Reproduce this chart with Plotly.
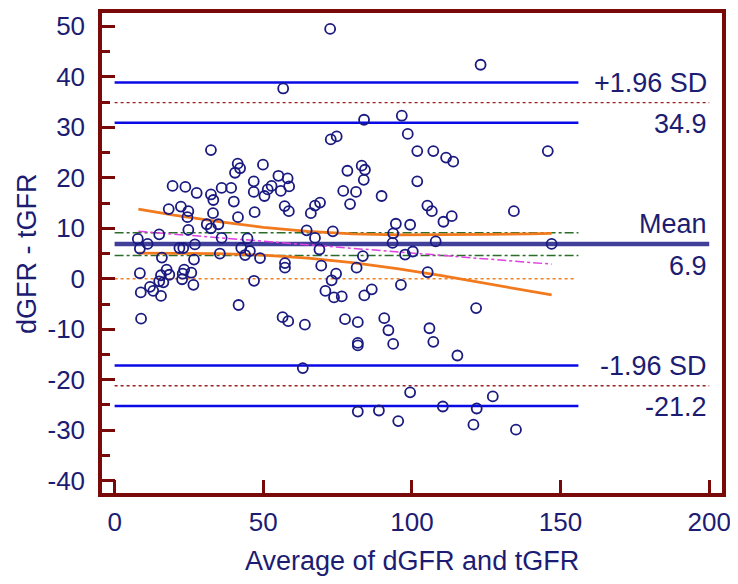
import plotly.graph_objects as go

# ---- data ----
avg = [7.8, 8.5, 11.1, 8.5, 8.8, 8.9, 11.9, 13.0, 15.6, 15.0, 16.4, 15.6, 18.4, 17.5, 15.9, 15.0,
       18.2, 19.5, 23.8, 27.6, 22.3, 24.8, 24.5, 24.8, 21.8, 23.1, 27.0, 26.7, 23.4, 22.9, 25.8,
       22.7, 26.5,
       32.4, 41.4, 42.2, 40.5, 32.4, 33.2, 36.0, 39.2, 40.1, 33.1, 41.5, 47.1, 31.0, 32.4, 34.9,
       36.0, 44.7, 35.4, 42.6, 45.5, 43.9, 48.9, 41.7, 46.9, 46.8, 46.8,
       49.9, 55.1, 58.2, 58.7, 50.4, 51.5, 52.8, 55.9, 57.2, 58.6, 57.3, 57.3, 56.5, 58.4, 56.7,
       63.3, 64.0, 64.6, 66.0, 67.4, 69.1, 67.4, 68.9, 69.5, 70.9, 72.5, 72.7, 74.7, 73.4, 74.5,
       73.0, 73.8, 76.4, 76.9, 78.3, 79.2, 77.5,
       81.2, 83.1, 84.2, 83.8, 83.9, 81.4, 83.5, 84.0, 86.5, 81.8, 81.8, 81.8, 81.8, 88.9, 89.8,
       90.7, 92.1, 93.7, 93.5, 93.7, 94.6, 95.4, 96.3, 96.6, 98.6, 97.7, 99.4, 99.4,
       100.3, 101.8, 101.8, 107.2, 111.5, 113.9, 105.2, 106.7, 110.6, 113.4, 108.0, 105.3, 105.9,
       107.2, 110.4, 115.3, 121.6, 121.8, 120.7, 123.1,
       127.2, 134.3, 135.0, 145.7, 147.0]
diff = [7.9, 6.0, 6.9, 1.1, -2.7, -7.9, -1.6, -2.4, -3.4, -0.5, -0.7, 0.7, 0.8, 1.8, 4.2, 8.8,
        13.8, 18.4, 18.2, 17.0, 14.3, 13.4, 12.2, 9.7, 6.1, 6.1, 6.8, 3.8, 1.8, 1.0, 1.2,
        -0.1, -1.2,
        25.5, 22.8, 21.9, 21.0, 16.7, 15.6, 18.0, 18.0, 15.3, 13.0, 12.2, 13.2, 10.8, 10.0, 10.8,
        8.1, 8.0, 5.0, 6.1, 5.5, 4.7, 4.1, -5.2, -0.4, 19.3, 17.2,
        22.6, 20.4, 19.9, 18.3, 16.4, 17.7, 18.4, 17.4, 14.4, 13.4, 3.1, 2.2, -7.6, -8.4, 37.7,
        -17.7, -9.1, 9.6, 13.0, 14.5, 15.1, 8.1, 5.8, 2.6, -2.4, 49.5, 27.6, 28.2, 9.4, 1.0,
        -0.3, -3.7, -3.5, 17.4, 21.4, 14.8, -8.0,
        17.2, 22.4, 21.6, 19.6, 31.5, 2.2, 4.5, -3.3, -2.1, -8.6, -12.7, -13.2, -26.3, -26.1, 16.4,
        -7.8, -10.2, -12.9, 7.1, 9.0, 10.9, -28.2, -1.2, 32.3, 28.7, 4.8, 10.7, -22.5,
        5.4, 25.3, 19.3, 25.3, 24.0, 23.2, 14.5, 13.4, 11.3, 12.4, 7.4, 1.3, -9.8,
        -12.5, -25.3, -15.2, -5.8, -25.7, -28.9, 42.4,
        -23.3, 13.4, -29.9, 25.3, 6.9]

mean_diff = 6.9
loa_upper = 34.9
loa_lower = -21.2
loa_upper_ci = [30.9, 38.9]
loa_lower_ci = [-25.2, -17.2]
mean_ci = [4.6, 9.1]

reg_x = [8, 147]
reg_y = [9.4, 2.9]
band_x = [8, 20, 35, 50, 65, 80, 95, 110, 125, 140, 147]
band_upper = [13.8, 12.6, 11.3, 10.2, 9.4, 8.9, 8.7, 8.7, 8.8, 8.9, 9.0]
band_lower = [5.1, 5.1, 5.0, 4.7, 4.1, 3.2, 2.0, 0.6, -0.9, -2.4, -3.2]

x_line_end = 200
x_ci_end = 156
x_zero_end = 155

x_ticks = [0, 50, 100, 150, 200]
y_ticks = [-40, -30, -20, -10, 0, 10, 20, 30, 40, 50]
y_tick_labels = [str(v) for v in y_ticks]   # plain hyphen-minus as in the reference

NAVY = "#1c1c72"
AXIS = "#7a0a0a"
FONT = "Liberation Sans, Arial, sans-serif"

fig = go.Figure()

def hline(y, x0, x1, color, width, dash="solid"):
    fig.add_trace(go.Scatter(x=[x0, x1], y=[y, y], mode="lines",
                             line=dict(color=color, width=width, dash=dash),
                             hoverinfo="skip", showlegend=False))

# line of equality
hline(0, 0, x_zero_end, "#f08020", 1.4, "dot")
# mean CI
for v in mean_ci:
    hline(v, 0, x_ci_end, "#2a6e2a", 1.5, "dashdot")
# LoA CI lines
for v in loa_upper_ci + loa_lower_ci:
    hline(v, 0, x_ci_end, "#0a0ae6", 2.5)
# LoA dotted lines
hline(loa_upper, 0, x_line_end, "#9a2020", 1.4, "dot")
hline(loa_lower, 0, x_line_end, "#9a2020", 1.4, "dot")
# mean line
hline(mean_diff, 0, x_line_end, "#40409a", 4.5)

# regression and confidence band
fig.add_trace(go.Scatter(x=reg_x, y=reg_y, mode="lines",
                         line=dict(color="#e040e0", width=1.5, dash="dashdot"),
                         hoverinfo="skip", showlegend=False))
fig.add_trace(go.Scatter(x=band_x, y=band_upper, mode="lines",
                         line=dict(color="#f27a1e", width=2.8),
                         hoverinfo="skip", showlegend=False))
fig.add_trace(go.Scatter(x=band_x, y=band_lower, mode="lines",
                         line=dict(color="#f27a1e", width=2.8),
                         hoverinfo="skip", showlegend=False))

# points
fig.add_trace(go.Scatter(x=avg, y=diff, mode="markers",
                         marker=dict(symbol="circle-open", size=10,
                                     color="#1a1a80", line=dict(width=1.8, color="#1a1a80")),
                         showlegend=False))

ann_font = dict(family=FONT, size=27, color=NAVY)
labels = [("+1.96 SD", loa_upper, 19.5), (f"{loa_upper:.1f}", loa_upper, -21),
          ("Mean", mean_diff, 19.5), (f"{mean_diff:.1f}", mean_diff, -22.5),
          ("-1.96 SD", loa_lower, 19.5), (f"{loa_lower:.1f}", loa_lower, -21)]
for txt, yv, ys in labels:
    fig.add_annotation(x=x_line_end, y=yv, text=txt, showarrow=False,
                       xanchor="right", yanchor="middle", yshift=ys,
                       font=ann_font)

# axis titles
fig.add_annotation(xref="paper", yref="paper", x=0.5, y=-0.1426,
                   text="Average of dGFR and tGFR", showarrow=False,
                   xanchor="center", yanchor="middle", font=ann_font)
fig.add_annotation(xref="paper", yref="paper", x=-0.121, y=0.5,
                   text="dGFR - tGFR", showarrow=False, textangle=-90,
                   xanchor="center", yanchor="middle", font=ann_font)

axis_common = dict(showline=True, linecolor=AXIS, linewidth=3.5, mirror=True,
                   ticks="inside", tickcolor=AXIS, tickwidth=3, ticklen=13,
                   showgrid=False, zeroline=False,
                   tickfont=dict(family=FONT, size=26, color=NAVY))

fig.update_xaxes(range=[-4.24, 204.3], tickvals=x_ticks, ticklabelstandoff=3, **axis_common)
fig.update_yaxes(range=[-42.44, 52.65], tickvals=y_ticks, ticktext=y_tick_labels,
                 ticklabelstandoff=8,
                 minor=dict(dtick=5, tick0=0, ticks="inside", ticklen=8,
                            tickcolor=AXIS, tickwidth=3),
                 **axis_common)

# the page body adds an 8px margin, so the figure is sized to fit the 738x584 window
fig.update_layout(width=730, height=576,
                  margin=dict(l=94, r=16, t=1, b=91),
                  plot_bgcolor="white", paper_bgcolor="white",
                  font=dict(family=FONT, color=NAVY))

fig.write_html("out.html")
